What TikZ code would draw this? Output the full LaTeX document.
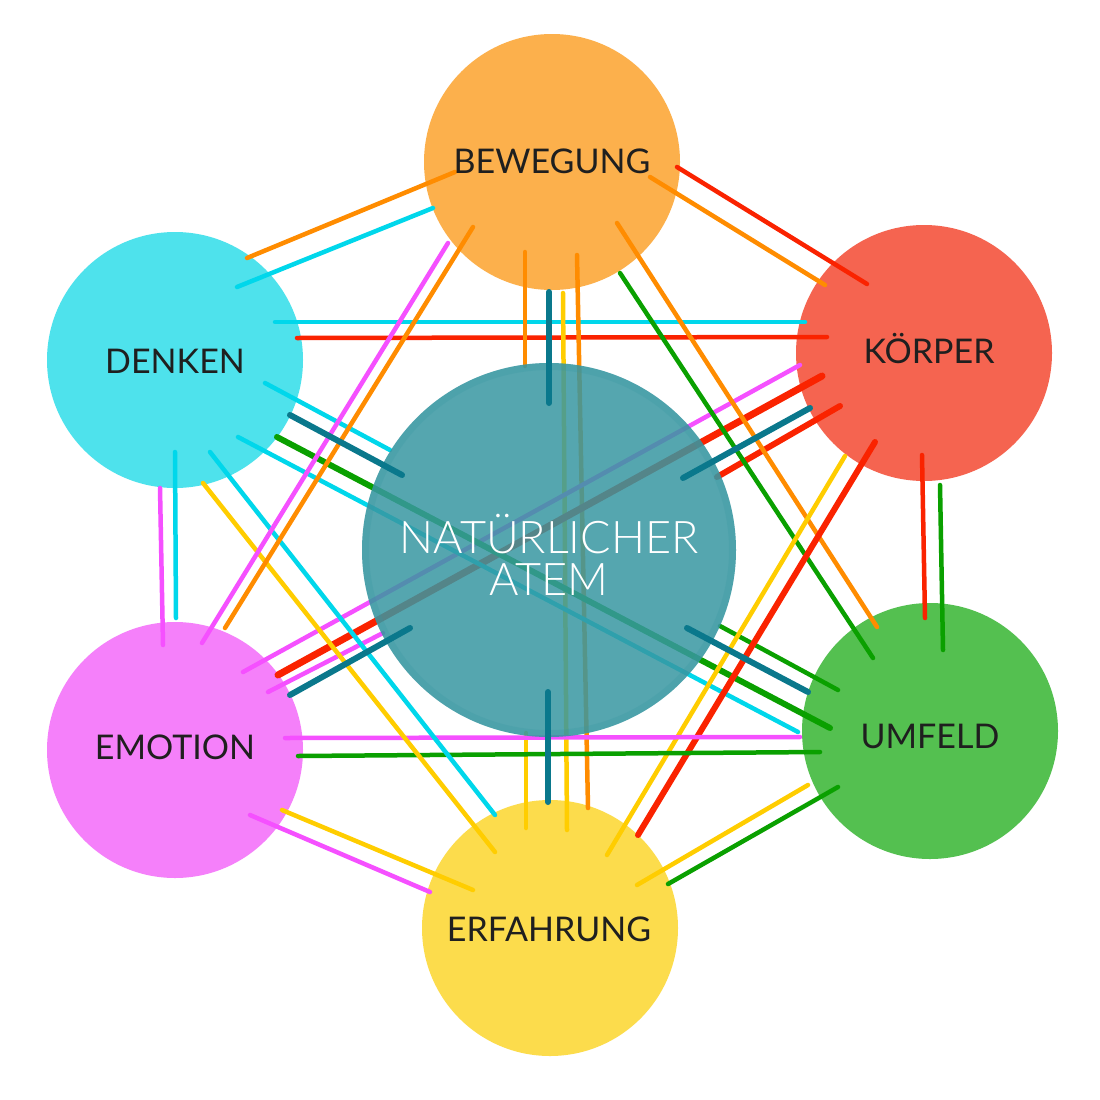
\documentclass[tikz,border=0pt]{standalone}
\usepackage{fontspec}
\setmainfont{Lato Light}
\newfontfamily\labfont{Lato}
\usetikzlibrary{calc}
\definecolor{fB}{RGB}{252,176,76}
\definecolor{fK}{RGB}{245,100,80}
\definecolor{fU}{RGB}{84,192,80}
\definecolor{fE}{RGB}{252,220,76}
\definecolor{fM}{RGB}{245,128,250}
\definecolor{fD}{RGB}{78,226,236}
\definecolor{fC}{RGB}{56,151,162}
\definecolor{lO}{RGB}{255,140,0}
\definecolor{lR}{RGB}{250,35,0}
\definecolor{lG}{RGB}{10,160,0}
\definecolor{lY}{RGB}{255,205,0}
\definecolor{lM}{RGB}{245,80,255}
\definecolor{lC}{RGB}{0,215,235}
\definecolor{lT}{RGB}{10,120,140}
\tikzset{
  bubble/.style={circle, minimum size=256pt, inner sep=0pt, fill=#1},
  core/.style={circle, minimum size=374pt, inner sep=0pt, fill=fC, fill opacity=0.85},
  ring/.style={draw=fC, line width=7pt, draw opacity=0.25},
  lab/.style={anchor=base, inner sep=0pt, font=\labfont\fontsize{34}{40}\selectfont, text=black!88},
  corelab/.style={anchor=base, inner sep=0pt, font=\fontsize{45}{40}\selectfont, text=white},
  ln/.style={draw=#1, line width=4.5pt, line cap=round},
  wide/.style={line width=6pt},
  wider/.style={line width=7pt},
}
\newcommand\lnk[5][]{\draw[#1] ($(#2)+#3$) -- ($(#4)+#5$);}
\begin{document}
\begin{tikzpicture}[x=1pt,y=-1pt]
\useasboundingbox (0,0) rectangle (1100,1100);
\fill[white] (0,0) rectangle (1100,1100);
\coordinate (B) at (552,162);
\coordinate (K) at (924,353);
\coordinate (U) at (930,731);
\coordinate (E) at (550,928);
\coordinate (M) at (175,750);
\coordinate (D) at (175,360);
\coordinate (C) at (549,550);
% outer circles
\node[bubble=fB] (Bc) at (B) {};
\node[bubble=fK] (Kc) at (K) {};
\node[bubble=fU] (Uc) at (U) {};
\node[bubble=fE] (Ec) at (E) {};
\node[bubble=fM] (Mc) at (M) {};
\node[bubble=fD] (Dc) at (D) {};
% connectors (under the centre circle)
\lnk[ln=lO]{D}{(72,-102)}{B}{(-97,10)}
\lnk[ln=lC]{D}{(62,-73)}{B}{(-119,46)}
\lnk[ln=lR]{B}{(125,5)}{K}{(-57,-69)}
\lnk[ln=lO]{B}{(98,15)}{K}{(-99,-68)}
\lnk[ln=lC]{D}{(100,-38)}{K}{(-119,-31)}
\lnk[ln=lR]{D}{(122,-22)}{K}{(-97,-16)}
\lnk[ln=lO]{B}{(25,93)}{E}{(38,-120)}
\lnk[ln=lY]{B}{(11,131)}{E}{(17,-98)}
\lnk[ln=lO]{B}{(-27,90)}{C}{(-24,-184)}
\lnk[ln=lY]{C}{(-23,183)}{E}{(-24,-100)}
\lnk[ln=lR,wide]{C}{(168,-73)}{K}{(-84,53)}
\lnk[ln=lR,wider]{K}{(-102,23)}{M}{(103,-75)}
\lnk[ln=lM]{K}{(-124,12)}{M}{(68,-78)}
\lnk[ln=lM]{C}{(-166,83)}{M}{(93,-58)}
\lnk[ln=lC]{D}{(90,23)}{C}{(-159,-100)}
\lnk[ln=lG,wide]{D}{(102,77)}{U}{(-100,-3)}
\lnk[ln=lC]{D}{(63,77)}{U}{(-132,1)}
\lnk[ln=lG]{C}{(171,76)}{U}{(-92,-41)}
\lnk[ln=lG]{B}{(68,111)}{U}{(-57,-73)}
\lnk[ln=lO]{B}{(65,61)}{U}{(-53,-104)}
\lnk[ln=lR]{K}{(-2,102)}{U}{(-5,-113)}
\lnk[ln=lG]{K}{(16,132)}{U}{(13,-81)}
\lnk[ln=lY]{K}{(-79,103)}{E}{(57,-73)}
\lnk[ln=lR,wide]{K}{(-49,89)}{E}{(88,-93)}
\lnk[ln=lY]{U}{(-122,54)}{E}{(87,-43)}
\lnk[ln=lG]{U}{(-92,56)}{E}{(118,-44)}
\lnk[ln=lY]{M}{(107,60)}{E}{(-77,-38)}
\lnk[ln=lM]{M}{(75,65)}{E}{(-120,-36)}
\lnk[ln=lM]{M}{(110,-12)}{U}{(-130,6)}
\lnk[ln=lG]{M}{(123,6)}{U}{(-110,21)}
\lnk[ln=lM]{D}{(-15,128)}{M}{(-12,-105)}
\lnk[ln=lC]{D}{(0,92)}{M}{(1,-132)}
\lnk[ln=lY]{D}{(28,123)}{E}{(-55,-76)}
\lnk[ln=lC]{D}{(35,92)}{E}{(-55,-113)}
\lnk[ln=lM]{M}{(27,-107)}{B}{(-104,81)}
\lnk[ln=lO]{M}{(50,-122)}{B}{(-79,65)}
% centre circle
\node[core] (Cc) at (C) {};
\draw[ring] (C) circle[radius=183.5];
% teal connectors on top
\lnk[ln=lT,wide]{B}{(-3,130)}{C}{(0,-147)}
\lnk[ln=lT,wide]{C}{(-1,142)}{E}{(-2,-126)}
\lnk[ln=lT,wide]{C}{(134,-72)}{K}{(-114,55)}
\lnk[ln=lT,wide]{C}{(-139,78)}{M}{(115,-55)}
\lnk[ln=lT,wide]{D}{(115,55)}{C}{(-147,-75)}
\lnk[ln=lT,wide]{C}{(138,78)}{U}{(-122,-39)}
% labels
\node[lab] (Bt) at (552,173) {BEWEGUNG};
\node[lab] (Kt) at (929,363) {KÖRPER};
\node[lab] (Ut) at (930,748) {UMFELD};
\node[lab] (Et) at (549,941) {ERFAHRUNG};
\node[lab] (Mt) at (175,759) {EMOTION};
\node[lab] (Dt) at (175,373) {DENKEN};
\node[corelab] (Ct1) at (549,553) {NATÜRLICHER};
\node[corelab] (Ct2) at (549,595) {ATEM};
\end{tikzpicture}
\end{document}
